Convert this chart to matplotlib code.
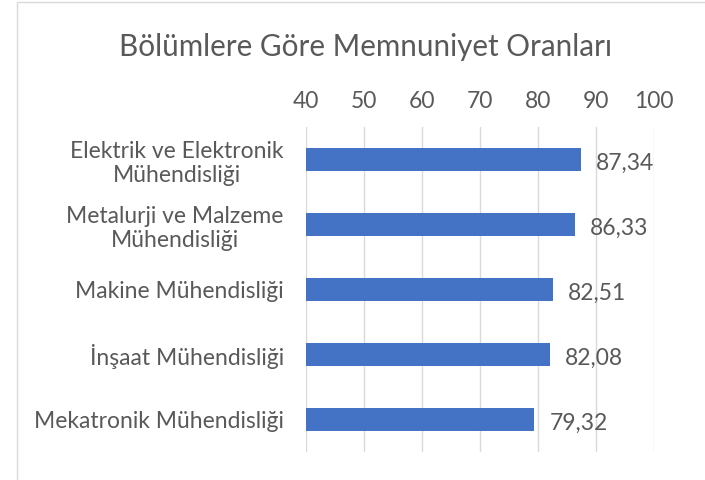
import matplotlib.pyplot as plt
from matplotlib.patches import Rectangle

# veriler
bolumler = [
    "Elektrik ve Elektronik\nMühendisliği",
    "Metalurji ve Malzeme\nMühendisliği",
    "Makine Mühendisliği",
    "İnşaat Mühendisliği",
    "Mekatronik Mühendisliği",
]
oranlar = [87.34, 86.33, 82.51, 82.08, 79.32]
x_ticks = [40, 50, 60, 70, 80, 90, 100]

gri = "#595959"
mavi = "#4472C4"
fs = 16.5

plt.rcParams["font.family"] = ["Lato", "DejaVu Sans"]

fig = plt.figure(figsize=(7.05, 4.8), dpi=100)
ax = fig.add_axes([0.434, 0.058, 0.494, 0.677])

y = list(range(len(bolumler)))
ax.barh(y, oranlar, height=0.36, left=0, color=mavi, zorder=3)
ax.set_xlim(40, 100)
ax.set_ylim(len(bolumler) - 0.5, -0.5)
ax.set_xticks(x_ticks)
ax.set_yticks(y)
ax.set_yticklabels(bolumler)
ax.xaxis.tick_top()
ax.tick_params(axis="x", length=0, pad=11, labelsize=fs, colors=gri)
ax.tick_params(axis="y", length=0, pad=16, labelsize=fs, colors=gri)
for lbl in ax.get_yticklabels():
    lbl.set_multialignment("center")
    lbl.set_linespacing(1.2)
ax.grid(axis="x", color="#D9D9D9", linewidth=1, zorder=0)
for s in ax.spines.values():
    s.set_visible(False)

# değer etiketleri (virgüllü)
for yi, v in zip(y, oranlar):
    ax.text(v + 2.6, yi + 0.06, f"{v:.2f}".replace(".", ","), va="center",
            ha="left", fontsize=fs, color=gri)

fig.text(0.518, 0.902, "Bölümlere Göre Memnuniyet Oranları", ha="center",
         va="center", fontsize=21.3, color=gri)

# grafik çerçevesi
fig.patches.append(Rectangle((0.024, -0.1), 1.2, 1.096, transform=fig.transFigure,
                             fill=False, edgecolor="#D9D9D9", linewidth=1))

fig.savefig("out.png", dpi=100)
